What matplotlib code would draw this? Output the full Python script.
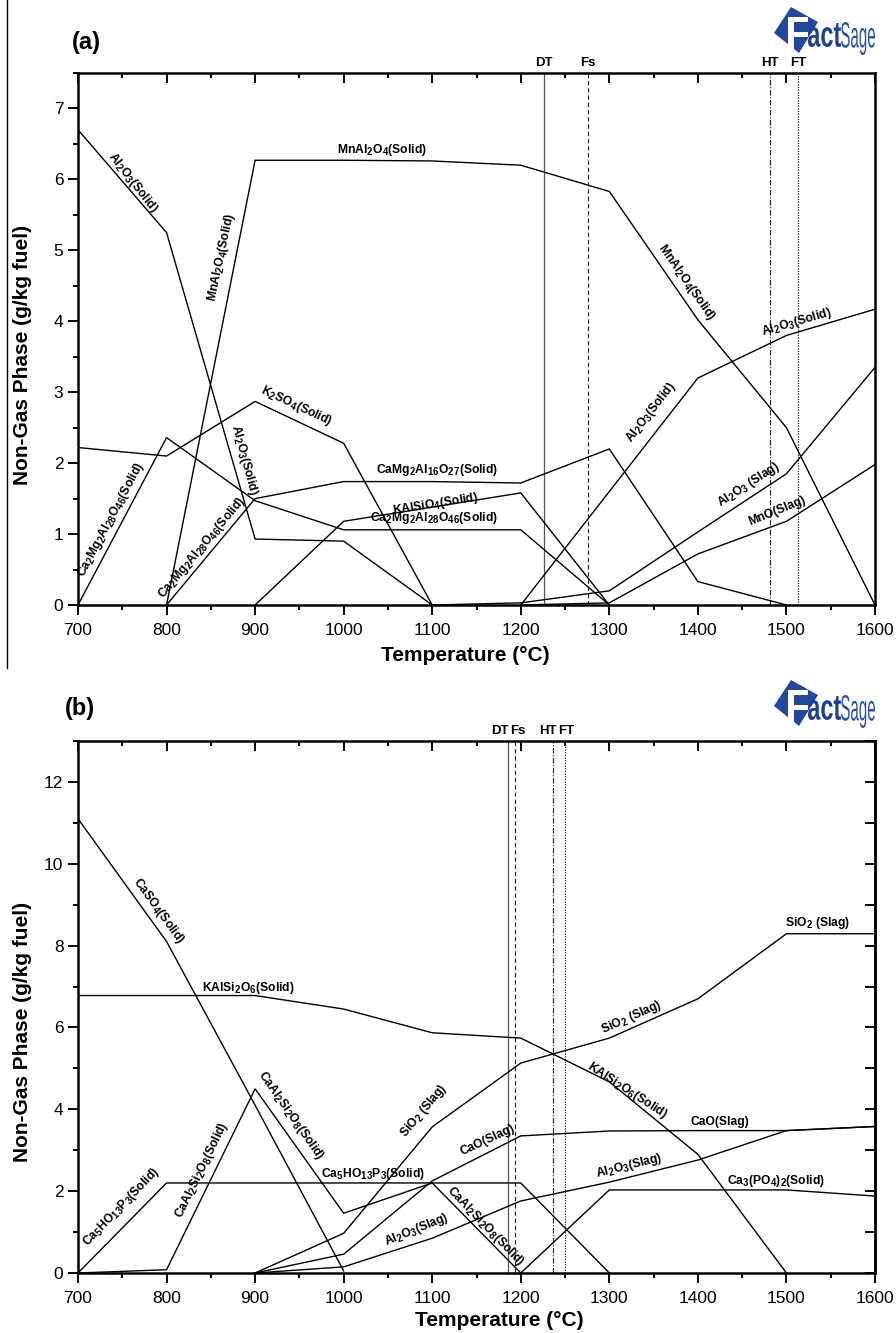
import matplotlib
matplotlib.use('Agg')
import matplotlib.pyplot as plt
import matplotlib._mathtext as mathtext_internal
from matplotlib.lines import Line2D
from matplotlib.patches import Polygon, PathPatch
from matplotlib.textpath import TextPath
from matplotlib.font_manager import FontProperties
from matplotlib.transforms import Affine2D, IdentityTransform
from matplotlib.ticker import MultipleLocator

plt.rcParams['font.family'] = ['Liberation Sans', 'DejaVu Sans']
plt.rcParams['mathtext.fontset'] = 'custom'
plt.rcParams['mathtext.rm'] = 'Liberation Sans:bold'
plt.rcParams['mathtext.bf'] = 'Liberation Sans:bold'
plt.rcParams['mathtext.default'] = 'rm'
# chemical subscripts in the original are larger than mathtext's default
mathtext_internal.SHRINK_FACTOR = 0.8

# ---- panel (a) data (g/kg fuel) ----
a_al2o3_s1_T = [700, 800, 900, 1000, 1100]
a_al2o3_s1 = [6.7, 5.25, 0.93, 0.9, 0.0]
a_mnal2o4_T = [800, 900, 1000, 1100, 1200, 1300, 1400, 1500, 1600]
a_mnal2o4 = [0.0, 6.27, 6.27, 6.26, 6.2, 5.83, 4.02, 2.5, 0.0]
a_k2so4_T = [700, 800, 900, 1000, 1100]
a_k2so4 = [2.22, 2.1, 2.87, 2.28, 0.0]
a_ca2mg2_T = [700, 800, 900, 1000, 1100, 1200, 1300]
a_ca2mg2 = [0.0, 2.36, 1.47, 1.06, 1.06, 1.06, 0.0]
a_camg2_T = [800, 900, 1000, 1100, 1200, 1300, 1400, 1500]
a_camg2 = [0.0, 1.5, 1.74, 1.74, 1.72, 2.2, 0.33, 0.0]
a_kalsio4_T = [900, 1000, 1100, 1200, 1300]
a_kalsio4 = [0.0, 1.18, 1.38, 1.58, 0.0]
a_al2o3_s2_T = [1200, 1300, 1400, 1500, 1600]
a_al2o3_s2 = [0.0, 1.6, 3.2, 3.8, 4.17]
a_al2o3_slag_T = [1100, 1200, 1300, 1400, 1500, 1600]
a_al2o3_slag = [0.0, 0.03, 0.2, 1.03, 1.85, 3.35]
a_mno_T = [1200, 1300, 1400, 1500, 1600]
a_mno = [0.0, 0.03, 0.72, 1.18, 1.98]
a_marks = [('DT', 1226), ('Fs', 1276), ('HT', 1481), ('FT', 1513)]

# ---- panel (b) data (g/kg fuel) ----
b_caso4_T = [700, 800, 900, 1000]
b_caso4 = [11.1, 8.1, 4.1, 0.05]
b_kalsi2o6_T = [700, 800, 900, 1000, 1100, 1200, 1300, 1400, 1500]
b_kalsi2o6 = [6.78, 6.78, 6.78, 6.45, 5.87, 5.74, 4.67, 2.9, 0.0]
b_ca5_T = [700, 800, 900, 1000, 1100, 1200, 1300]
b_ca5 = [0.0, 2.2, 2.2, 2.2, 2.2, 2.2, 0.0]
b_caal2_T = [700, 800, 900, 1000, 1100, 1200]
b_caal2 = [0.0, 0.08, 4.5, 1.46, 2.2, 0.0]
b_sio2_T = [900, 1000, 1100, 1200, 1300, 1400, 1500, 1600]
b_sio2 = [0.0, 0.97, 3.57, 5.13, 5.74, 6.7, 8.29, 8.29]
b_cao_T = [900, 1000, 1100, 1200, 1300, 1400, 1500, 1600]
b_cao = [0.0, 0.46, 2.25, 3.35, 3.47, 3.48, 3.48, 3.58]
b_al2o3_T = [900, 1000, 1100, 1200, 1300, 1400, 1500, 1600]
b_al2o3 = [0.0, 0.15, 0.85, 1.76, 2.22, 2.76, 3.48, 3.58]
b_ca3_T = [1200, 1300, 1400, 1500, 1600]
b_ca3 = [0.0, 2.03, 2.03, 2.03, 1.88]
b_marks = [('DT', 1186), ('Fs', 1194), ('HT', 1236), ('FT', 1250)]
b_mark_label_T = [1176, 1197, 1231, 1251]

W, H = 896, 1333
fig = plt.figure(figsize=(W / 100, H / 100), dpi=100)
fig.patch.set_facecolor('white')

mark_styles = {'DT': dict(color='#555555', linestyle='-', lw=0.9),
               'Fs': dict(color='#222222', linestyle=(0, (4, 2.5)), lw=0.8),
               'HT': dict(color='#222222', linestyle=(0, (5, 1.5, 1, 1.5)), lw=0.8),
               'FT': dict(color='#222222', linestyle=(0, (1.2, 1.2)), lw=0.8)}


def px_axes(left, top, right, bottom):
    return fig.add_axes([left / W, 1 - bottom / H, (right - left) / W, (bottom - top) / H])


def style_axes(ax, ymax, ymajor, yminor, xlab_pos, ylab_pos):
    ax.set_xlim(700, 1600)
    ax.set_ylim(0, ymax)
    ax.xaxis.set_major_locator(MultipleLocator(100))
    ax.xaxis.set_minor_locator(MultipleLocator(50))
    ax.yaxis.set_major_locator(MultipleLocator(ymajor))
    ax.yaxis.set_minor_locator(MultipleLocator(yminor))
    for s in ax.spines.values():
        s.set_linewidth(1.8)
    ax.tick_params(axis='x', which='both', top=True, bottom=True, direction='in', width=1.4)
    ax.tick_params(axis='x', which='major', length=7, labelsize=12.5, pad=13)
    ax.tick_params(axis='x', which='minor', length=3.5)
    ax.tick_params(axis='y', which='both', direction='out', width=1.4, right=False)
    ax.tick_params(axis='y', which='major', length=7, labelsize=12.5)
    ax.tick_params(axis='y', which='minor', length=3.5)
    # bottom ticks point outward, top ticks inward
    for t in ax.xaxis.get_major_ticks() + ax.xaxis.get_minor_ticks():
        t.tick1line.set_marker(3)
    ax.set_xlabel('Temperature (°C)', fontsize=15, fontweight='bold')
    ax.set_ylabel('Non-Gas Phase (g/kg fuel)', fontsize=15, fontweight='bold')
    ax.xaxis.set_label_coords(*xlab_pos)
    ax.yaxis.set_label_coords(*ylab_pos)


def curve(ax, T, v):
    ax.plot(T, v, color='black', lw=1.0, solid_joinstyle='miter', zorder=3)


def label(ax, s, T, y, rot=0):
    ax.text(T, y, s, fontsize=8.7, fontweight='bold', rotation=rot, rotation_mode='anchor',
            ha='center', va='center', zorder=4)


def marks(ax, items, label_T):
    for (name, t), lt in zip(items, label_T):
        ax.axvline(t, zorder=2, **mark_styles[name])
        ax.annotate(name, (lt, 1), xycoords=('data', 'axes fraction'), xytext=(0, 3),
                    textcoords='offset points', fontsize=9.5, fontweight='bold',
                    ha='center', va='bottom')


def fit_text(s, x0, y0, w, h, color, weight='bold'):
    # text stretched into a pixel box (x0, y0 = top-left corner in image pixels)
    tp = TextPath((0, 0), s, size=10, prop=FontProperties(family='Liberation Sans', weight=weight))
    bb = tp.get_extents()
    tr = (Affine2D().translate(-bb.x0, -bb.y0).scale(w / bb.width, h / bb.height)
          .translate(x0, H - y0 - h))
    fig.add_artist(PathPatch(tp, transform=tr + IdentityTransform(), color=color, lw=0))


def logo(top):
    blue = '#23479a'
    pts = [(774, top + 33), (791, top + 7), (818, top + 22), (799, top + 53)]
    fig.add_artist(Polygon([(x, H - y) for x, y in pts], closed=True, transform=IdentityTransform(),
                           facecolor=blue, edgecolor='none'))
    fit_text('F', 788, top + 17, 20, 32, 'white')
    fit_text('act', 808, top + 23, 33, 24, '#1f3f8f')
    fit_text('Sage', 841, top + 22, 34, 33, '#2b52a6', weight='normal')


# ---------------- panel (a) ----------------
ax = px_axes(78, 73, 875, 605)
style_axes(ax, 7.5, 1, 0.5, (0.486, -0.077), (-0.058, 0.47))
curve(ax, a_al2o3_s1_T, a_al2o3_s1)
curve(ax, a_mnal2o4_T, a_mnal2o4)
curve(ax, a_k2so4_T, a_k2so4)
curve(ax, a_ca2mg2_T, a_ca2mg2)
curve(ax, a_camg2_T, a_camg2)
curve(ax, a_kalsio4_T, a_kalsio4)
curve(ax, a_al2o3_s2_T, a_al2o3_s2)
curve(ax, a_al2o3_slag_T, a_al2o3_slag)
curve(ax, a_mno_T, a_mno)
marks(ax, a_marks, [t for _, t in a_marks])

label(ax, r'Al$_2$O$_3$(Solid)', 762, 5.95, -52)
label(ax, r'MnAl$_2$O$_4$(Solid)', 862, 4.9, 78)
label(ax, r'MnAl$_2$O$_4$(Solid)', 1043, 6.42)
label(ax, r'MnAl$_2$O$_4$(Solid)', 1387, 4.55, -55)
label(ax, r'Al$_2$O$_3$(Solid)', 1512, 3.98, 16)
label(ax, r'K$_2$SO$_4$(Solid)', 947, 2.8, -25)
label(ax, r'Al$_2$O$_3$(Solid)', 887, 2.05, -75)
label(ax, r'Ca$_2$Mg$_2$Al$_{28}$O$_{46}$(Solid)', 737, 1.2, 62)
label(ax, r'Ca$_2$Mg$_2$Al$_{28}$O$_{46}$(Solid)', 840, 0.8, 50)
label(ax, r'CaMg$_2$Al$_{16}$O$_{27}$(Solid)', 1105, 1.9)
label(ax, r'KAlSiO$_4$(Solid)', 1104, 1.42, 9)
label(ax, r'Ca$_2$Mg$_2$Al$_{28}$O$_{46}$(Solid)', 1102, 1.22)
label(ax, r'Al$_2$O$_3$(Solid)', 1347, 2.72, 52)
label(ax, r'Al$_2$O$_3$ (Slag)', 1457, 1.7, 33)
label(ax, r'MnO(Slag)', 1489, 1.32, 22)

fig.text(72 / W, 1 - 42 / H, '(a)', fontsize=17, fontweight='bold', ha='left', va='center')
logo(0)

# ---------------- panel (b) ----------------
ax = px_axes(78, 741, 875, 1273)
style_axes(ax, 13, 2, 1, (0.529, -0.071), (-0.058, 0.453))
sec = ax.secondary_yaxis('right')
sec.yaxis.set_major_locator(MultipleLocator(1))
sec.tick_params(direction='in', length=7, width=1.4, labelright=False)
sec.spines['right'].set_linewidth(1.8)
curve(ax, b_caso4_T, b_caso4)
curve(ax, b_kalsi2o6_T, b_kalsi2o6)
curve(ax, b_ca5_T, b_ca5)
curve(ax, b_caal2_T, b_caal2)
curve(ax, b_sio2_T, b_sio2)
curve(ax, b_cao_T, b_cao)
curve(ax, b_al2o3_T, b_al2o3)
curve(ax, b_ca3_T, b_ca3)
marks(ax, b_marks, b_mark_label_T)

label(ax, r'CaSO$_4$(Solid)', 791, 8.85, -54)
label(ax, r'KAlSi$_2$O$_6$(Solid)', 892, 6.97)
label(ax, r'CaAl$_2$Si$_2$O$_8$(Solid)', 940, 3.85, -55)
label(ax, r'CaAl$_2$Si$_2$O$_8$(Solid)', 840, 2.5, 64)
label(ax, r'Ca$_5$HO$_{13}$P$_3$(Solid)', 749, 1.6, 46)
label(ax, r'Ca$_5$HO$_{13}$P$_3$(Solid)', 1033, 2.42)
label(ax, r'SiO$_2$ (Slag)', 1090, 3.95, 50)
label(ax, r'Al$_2$O$_3$(Slag)', 1083, 1.05, 22)
label(ax, r'CaO(Slag)', 1163, 3.25, 25)
label(ax, r'CaAl$_2$Si$_2$O$_8$(Solid)', 1160, 1.15, -46)
label(ax, r'SiO$_2$ (Slag)', 1325, 6.25, 24)
label(ax, r'KAlSi$_2$O$_6$(Solid)', 1320, 4.45, -33)
label(ax, r'CaO(Slag)', 1425, 3.7)
label(ax, r'Al$_2$O$_3$(Slag)', 1323, 2.62, 14)
label(ax, r'Ca$_3$(PO$_4$)$_2$(Solid)', 1488, 2.24)
label(ax, r'SiO$_2$ (Slag)', 1535, 8.55)

fig.text(65 / W, 1 - 708 / H, '(b)', fontsize=17, fontweight='bold', ha='left', va='center')
logo(673)

# thin page border at left of the upper panel
fig.add_artist(Line2D([7 / W, 7 / W], [1, 1 - 668 / H], color='black', lw=1.0,
                      transform=fig.transFigure))

fig.savefig('out.png', dpi=100)
